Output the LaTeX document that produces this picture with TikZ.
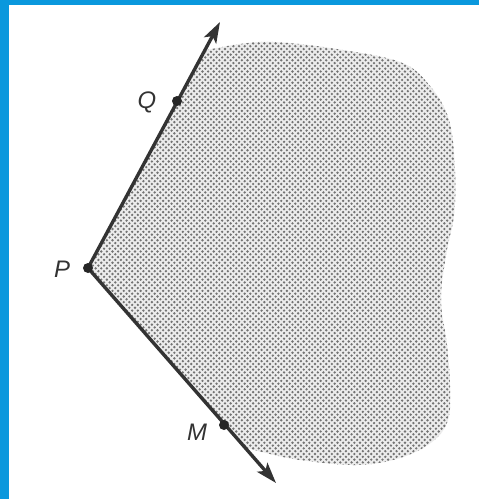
\documentclass[tikz,border=0pt]{standalone}
\usepackage{fontspec}
\setsansfont{Liberation Sans}
\usetikzlibrary{arrows.meta, patterns}

\definecolor{frameblue}{HTML}{0A98DD}

% coarse halftone dots for the shaded region
\pgfdeclarepatternformonly{halftone}{\pgfqpoint{-1pt}{-1pt}}{\pgfqpoint{4pt}{4pt}}{\pgfqpoint{4pt}{4pt}}{%
    \pgfpathcircle{\pgfqpoint{0pt}{0pt}}{0.9pt}
    \pgfpathcircle{\pgfqpoint{2pt}{2pt}}{0.9pt}
    \pgfusepath{fill}
}

\begin{document}
\begin{tikzpicture}[x=0.025cm, y=-0.025cm, >={Stealth[length=0.52cm, width=0.34cm, inset=0.12cm]},
    ray/.style={line width=2.4pt, draw=black!80, ->},
    pt/.style={fill=black!85},
    lbl/.style={font=\fontsize{17}{19}\selectfont\sffamily\itshape, text=black!80}]

    % -------------------------------------------------------------
    % FRAME
    % -------------------------------------------------------------
    \useasboundingbox (0,0) rectangle (479,499);
    \fill[white] (0,0) rectangle (479,499);
    \fill[frameblue] (0,0) rectangle (9,499);
    \fill[frameblue] (0,0) rectangle (479,5);

    % -------------------------------------------------------------
    % POINTS
    % -------------------------------------------------------------
    \coordinate (P) at (88,268);
    \coordinate (Q) at (177,101);
    \coordinate (M) at (224,425);
    \coordinate (topTip) at (220,22);
    \coordinate (botTip) at (276,483);

    % -------------------------------------------------------------
    % SHADED REGION
    % -------------------------------------------------------------
    \def\regionpath{(P) -- plot[smooth, tension=0.6] coordinates {(207,50) (240,44) (273,42) (330,48) (400,62) (430,86) (449,120) (455,170) (454,215) (446,255) (441,300) (447,345) (450,385) (448,420) (432,442) (400,458) (357,465) (300,460) (262,452) (245,447)} -- cycle}
    \fill[gray!15] \regionpath;
    \fill[pattern=halftone, pattern color=black!55] \regionpath;

    % -------------------------------------------------------------
    % RAYS AND LABELS
    % -------------------------------------------------------------
    \draw[ray] (P) -- (topTip);
    \draw[ray] (P) -- (botTip);

    \fill[pt] (P) circle (5);
    \fill[pt] (Q) circle (5);
    \fill[pt] (M) circle (5);

    \node[lbl] (Plbl) at (62,269) {P};
    \node[lbl] (Qlbl) at (147,102) {Q};
    \node[lbl] (Mlbl) at (197,432) {M};

\end{tikzpicture}
\end{document}
